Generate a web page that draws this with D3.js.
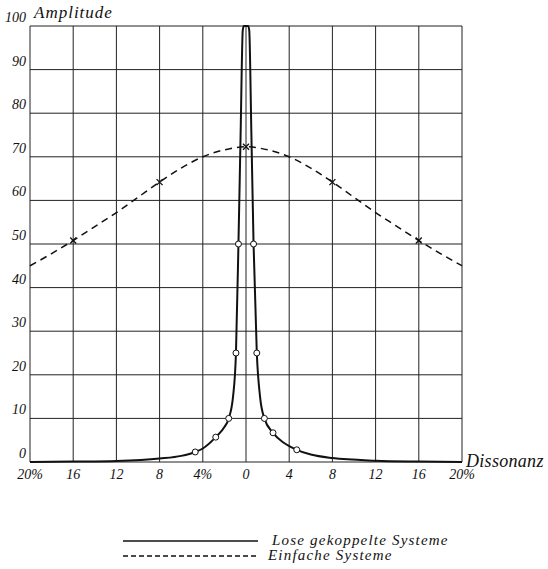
<html>
<head>
  <script src="https://d3js.org/d3.v7.min.js"></script>
  <style>
    body { margin: 0; background: #fff; }
    text { font-family: "Liberation Serif", "DejaVu Serif", serif; font-style: italic; fill: #111; }
    .grid line { stroke: #222; stroke-width: 1; }
  </style>
</head>
<body>
  <script>
    // x ticks (percent dissonance) and labels
    var xTicks = [-20, -16, -12, -8, -4, 0, 4, 8, 12, 16, 20];
    var xLabels = ["20%", "16", "12", "8", "4%", "0", "4", "8", "12", "16", "20%"];
    var yTicks = [0, 10, 20, 30, 40, 50, 60, 70, 80, 90, 100];

    // loosely coupled systems (solid)
    var loseX = [-20, -16, -12, -8, -6, -4.7, -4, -2.8, -2, -1.6, -1.2, -0.93, -0.7, -0.5, -0.3, -0.2, 0.2, 0.3, 0.5, 0.7, 1.0, 1.3, 1.7, 2.5, 3.5, 4.7, 6, 8, 12, 16, 20];
    var loseY = [0, 0.1, 0.25, 0.8, 1.4, 2.3, 3.1, 5.7, 8, 10, 15, 25, 50, 75, 99, 100, 100, 99, 75, 50, 25, 15, 10, 6.7, 4.4, 2.8, 1.7, 0.9, 0.3, 0.1, 0];
    var loseMarkX = [-4.7, -2.8, -1.6, -0.93, -0.7, 0.7, 1.0, 1.7, 2.5, 4.7];
    var loseMarkY = [2.3, 5.7, 10, 25, 50, 50, 25, 10, 6.7, 2.8];

    // simple systems (dashed)
    var einX = [-20, -18, -16, -14, -12, -10, -8, -6, -4, -2, 0, 2, 4, 6, 8, 10, 12, 14, 16, 18, 20];
    var einY = [45, 47.8, 50.8, 54, 57.2, 60.7, 64.2, 67.4, 70, 71.6, 72.3, 71.6, 70, 67.4, 64.2, 60.7, 57.2, 54, 50.8, 47.8, 45];
    var einMarkX = [-16, -8, 0, 8, 16];
    var einMarkY = [50.8, 64.2, 72.3, 64.2, 50.8];

    var width = 548, height = 569;
    var svg = d3.select("body").append("svg")
      .attr("width", width).attr("height", height);

    var x = d3.scaleLinear().domain([-20, 20]).range([30, 462]);
    var y = d3.scaleLinear().domain([0, 100]).range([462, 26]);

    var grid = svg.append("g").attr("class", "grid");
    grid.selectAll(".v").data(xTicks).enter().append("line")
      .attr("x1", function(d) { return x(d); }).attr("x2", function(d) { return x(d); })
      .attr("y1", y(0)).attr("y2", y(100));
    grid.selectAll(".h").data(yTicks).enter().append("line")
      .attr("y1", function(d) { return y(d); }).attr("y2", function(d) { return y(d); })
      .attr("x1", x(-20)).attr("x2", x(20));

    // axis labels
    svg.selectAll(".ylab").data(yTicks).enter().append("text")
      .attr("x", 26).attr("y", function(d) { return y(d) - 4; })
      .attr("text-anchor", "end").attr("font-size", 14)
      .text(function(d) { return d; });
    svg.selectAll(".xlab").data(xTicks).enter().append("text")
      .attr("x", function(d) { return x(d); }).attr("y", 479)
      .attr("text-anchor", "middle").attr("font-size", 14)
      .text(function(d, i) { return xLabels[i]; });

    svg.append("text").attr("x", 34).attr("y", 18).attr("font-size", 17)
      .attr("letter-spacing", 1).text("Amplitude");
    svg.append("text").attr("x", 466).attr("y", 467).attr("font-size", 18)
      .attr("letter-spacing", 0.3).text("Dissonanz");

    var line = d3.line()
      .x(function(d) { return x(d[0]); })
      .y(function(d) { return y(d[1]); })
      .curve(d3.curveMonotoneX);

    svg.append("path")
      .attr("d", line(d3.zip(einX, einY)))
      .attr("fill", "none").attr("stroke", "#111")
      .attr("stroke-width", 1.5).attr("stroke-dasharray", "7,5");

    svg.append("path")
      .attr("d", line(d3.zip(loseX, loseY)))
      .attr("fill", "none").attr("stroke", "#111")
      .attr("stroke-width", 2);

    svg.selectAll(".circ").data(d3.zip(loseMarkX, loseMarkY)).enter().append("circle")
      .attr("cx", function(d) { return x(d[0]); })
      .attr("cy", function(d) { return y(d[1]); })
      .attr("r", 3).attr("fill", "#fff").attr("stroke", "#111").attr("stroke-width", 1);

    svg.selectAll(".cross").data(d3.zip(einMarkX, einMarkY)).enter().append("path")
      .attr("d", "M-3,-3L3,3M-3,3L3,-3")
      .attr("transform", function(d) { return "translate(" + x(d[0]) + "," + y(d[1]) + ")"; })
      .attr("stroke", "#111").attr("stroke-width", 1.3);

    // legend
    var legend = svg.append("g");
    legend.append("line").attr("x1", 123).attr("x2", 258).attr("y1", 541).attr("y2", 541)
      .attr("stroke", "#111").attr("stroke-width", 1.5);
    legend.append("line").attr("x1", 123).attr("x2", 258).attr("y1", 556).attr("y2", 556)
      .attr("stroke", "#111").attr("stroke-width", 1.3).attr("stroke-dasharray", "5,3");
    legend.append("text").attr("x", 272).attr("y", 545).attr("font-size", 15)
      .attr("letter-spacing", 1.2).text("Lose  gekoppelte  Systeme");
    legend.append("text").attr("x", 268).attr("y", 560).attr("font-size", 15)
      .attr("letter-spacing", 1.2).text("Einfache  Systeme");
  </script>
</body>
</html>
